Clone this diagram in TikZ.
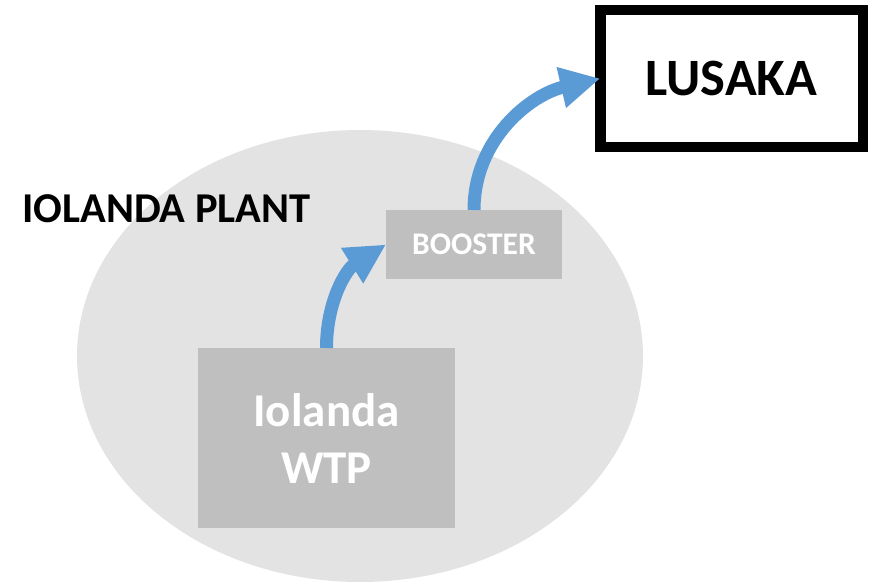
\documentclass[tikz,border=0pt]{standalone}
\usepackage{fontspec}
\setmainfont{Carlito}
\usetikzlibrary{arrows.meta}
\definecolor{plantgrey}{HTML}{E3E3E3}
\definecolor{unitgrey}{HTML}{BFBFBF}
\definecolor{flowblue}{HTML}{5B9BD5}
\begin{document}
\begin{tikzpicture}[x=1pt,y=1pt,
  unit/.style={fill=unitgrey, inner sep=0pt, outer sep=0pt, text=white},
  flow/.style={draw=flowblue, line width=13pt, -{Triangle[length=40pt,width=39pt]}},
]
\useasboundingbox (0,0) rectangle (890,-587);
% plant site
\fill[plantgrey] (360,-356) ellipse [x radius=283, y radius=226];
\node[anchor=base west, inner sep=0pt, font=\bfseries\fontsize{42.5}{50}\selectfont] (plant) at (22,-222) {IOLANDA PLANT};
% units inside the plant
\node[unit, minimum width=257pt, minimum height=180pt, align=center,
      font=\bfseries\fontsize{47}{57}\selectfont] (wtp) at (326.5,-438) {Iolanda\\WTP};
\node[unit, minimum width=176pt, minimum height=69pt,
      font=\bfseries\fontsize{31.5}{38}\selectfont] (booster) at (474,-244.5) {BOOSTER};
% destination
\node[draw=black, line width=10.5pt, minimum width=262.5pt, minimum height=137pt,
      inner sep=0pt, outer sep=0pt, font=\bfseries\fontsize{52.5}{63}\selectfont] (lusaka) at (731.5,-78.5) {LUSAKA};
% water flow
\draw[flow] (wtp.north) to[out=90, in=212] (booster.west);
\draw[flow] (booster.north) to[out=90, in=193] (lusaka.west);
\end{tikzpicture}
\end{document}
